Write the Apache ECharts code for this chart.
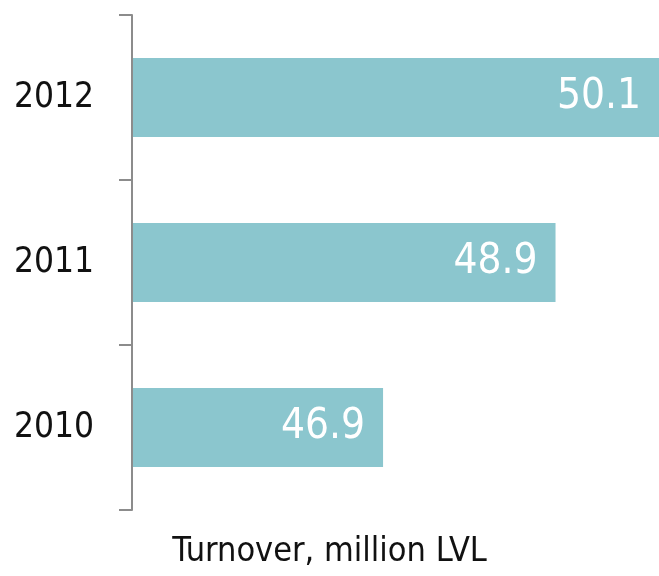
<!DOCTYPE html>
<html>
<head>
<meta charset="utf-8">
<script src="https://cdn.jsdelivr.net/npm/echarts@6/dist/echarts.min.js"></script>
<style>
  html, body { margin: 0; padding: 0; background: #fff; }
  #chart { width: 659px; height: 576px; }
</style>
</head>
<body>
<div id="chart"></div>
<script>
var years = ['2010', '2011', '2012']
var turnover = [46.9, 48.9, 50.1]
var axisTitle = 'Turnover, million LVL'

var font = '"DejaVu Sans Condensed", sans-serif'
var chart = echarts.init(document.getElementById('chart'))

var option = {
  animation: false,
  title: {
    text: axisTitle,
    left: 'center',
    top: 530,
    textStyle: {
      fontFamily: font,
      fontSize: 34,
      fontWeight: 'normal',
      color: '#111'
    }
  },
  grid: {
    left: 133,
    right: 0,
    top: 15,
    bottom: 66
  },
  xAxis: {
    type: 'value',
    min: 44,
    max: 50.1,
    show: false
  },
  yAxis: {
    type: 'category',
    data: years,
    offset: 1,
    axisLine: {
      show: true,
      lineStyle: { color: '#8c8c8c', width: 2 }
    },
    axisTick: {
      show: true,
      length: 13,
      lineStyle: { color: '#8c8c8c', width: 2 }
    },
    axisLabel: {
      margin: 38,
      fontFamily: font,
      fontSize: 35,
      color: '#111'
    }
  },
  series: [{
    type: 'bar',
    data: turnover,
    barWidth: 79,
    itemStyle: { color: '#8bc6ce' },
    label: {
      show: true,
      position: 'insideRight',
      distance: 18,
      fontFamily: font,
      fontSize: 42,
      color: '#fff'
    }
  }]
}
chart.setOption(option)
</script>
</body>
</html>
